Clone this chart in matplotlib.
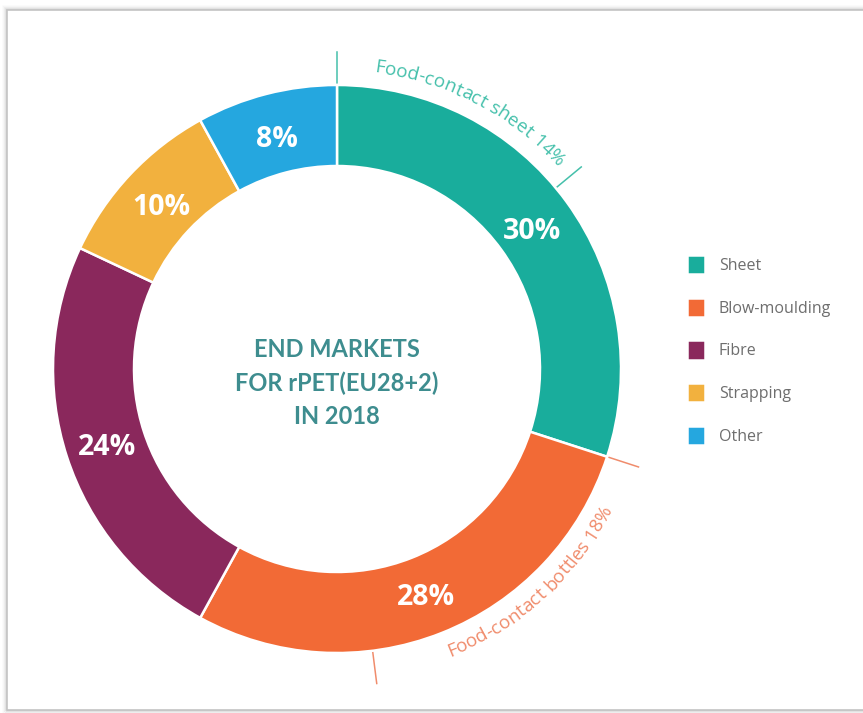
import numpy as np
import matplotlib.pyplot as plt
from matplotlib.patches import Rectangle
from matplotlib.font_manager import FontProperties
from matplotlib.textpath import TextToPath

# end markets for rPET, share in %
labels = ['Sheet', 'Blow-moulding', 'Fibre', 'Strapping', 'Other']
shares = [30, 28, 24, 10, 8]
colors = ['#19ad9c', '#f26a36', '#8a285c', '#f2b13e', '#25a7df']

# food-contact part of the first two segments
fc_labels = ['Food-contact sheet', 'Food-contact bottles']
fc_shares = [14, 18]
fc_colors = ['#45c0ab', '#f08c6c']

title = 'END MARKETS\nFOR rPET(EU28+2)\nIN 2018'

W, H = 863, 713
cx, cy = 337, H - 369
R, ring = 284, 81

fig = plt.figure(figsize=(W / 100, H / 100), dpi=100)
ax = fig.add_axes([0, 0, 1, 1])

# card frame with a soft grey shadow
for k, a in enumerate([0.35, 0.22, 0.13, 0.07, 0.04]):
    ax.add_patch(Rectangle((7 - k, 3 - k), 900 + 2 * k, 700 + 2 * k, fill=False,
                           edgecolor='#9a9a9a', lw=1.2, alpha=a, zorder=0))
ax.add_patch(Rectangle((7, 3), 900, 700, facecolor='white', edgecolor='#c4c4c4',
                       lw=1.2, zorder=0.5))

wedges, _, pcts = ax.pie(shares, colors=colors, center=(cx, cy), radius=R,
                         startangle=90, counterclock=False,
                         autopct=lambda p: f'{p:.0f}%', pctdistance=0.85,
                         wedgeprops=dict(width=ring, edgecolor='white', linewidth=1.8),
                         textprops=dict(color='white', fontsize=20.5, fontweight='bold',
                                        family='Open Sans'))
for w in wedges:
    w.set_zorder(2)
for t in pcts:
    x, y = t.get_position()
    t.set_position((x, y - 4))
    t.set_zorder(3)

ax.text(cx, H - 383, title, ha='center', va='center', color='#3e8d8f',
        fontsize=17, fontweight='bold', family='Lato', linespacing=1.55, zorder=3)

ttp = TextToPath()


def advance(s, fp):
    # width in pixels, measured with a trailing 'l' so spaces count
    w1 = ttp.get_text_width_height_descent(s + 'l', fp, ismath=False)[0]
    w2 = ttp.get_text_width_height_descent('l', fp, ismath=False)[0]
    return (w1 - w2) * 100 / 72


def arc_text(s, theta_c, r, color, inward=False, size=13.7):
    fp = FontProperties(family='Open Sans', size=size)
    total = advance(s, fp)
    for i, ch in enumerate(s):
        if ch == ' ':
            continue
        a0, a1 = advance(s[:i], fp), advance(s[:i + 1], fp)
        off = (total / 2 - (a0 + a1) / 2) / r
        if inward:
            th = np.radians(theta_c) - off
            rot = np.degrees(th) + 90
        else:
            th = np.radians(theta_c) + off
            rot = np.degrees(th) - 90
        ax.text(cx + r * np.cos(th), cy + r * np.sin(th), ch, color=color,
                fontproperties=fp, rotation=rot, rotation_mode='anchor',
                ha='center', va='baseline', zorder=3)


# food-contact sub-arcs: ticks at both ends and a curved label between
starts = [90, 90 - 360 * shares[0] / 100]
for k, (lab, sh, col) in enumerate(zip(fc_labels, fc_shares, fc_colors)):
    a0 = starts[k]
    a1 = a0 - 360 * sh / 100
    for a in (a0, a1):
        t = np.radians(a)
        ax.plot([cx + R * np.cos(t), cx + (R + 33) * np.cos(t)],
                [cy + R * np.sin(t), cy + (R + 33) * np.sin(t)],
                color=col, lw=1.1, zorder=1)
    mid = (a0 + a1) / 2
    if k == 0:
        arc_text(f'{lab} {sh}%', mid - 2.2, R + 15, col)
    else:
        arc_text(f'{lab} {sh}%', mid + 2.6, R + 25, col, inward=True)

ax.legend(wedges, labels, loc='upper left', bbox_to_anchor=(687 / W, 1 - 255 / H),
          frameon=False, prop=FontProperties(family='Open Sans', size=11.5),
          labelcolor='#6e6e6e', handlelength=1.15, handleheight=1.5,
          handletextpad=0.85, labelspacing=1.45, borderpad=0, borderaxespad=0)

ax.set_xlim(0, W)
ax.set_ylim(0, H)
ax.set_aspect('equal')
ax.axis('off')

fig.savefig('out.png', dpi=100, facecolor='white')
